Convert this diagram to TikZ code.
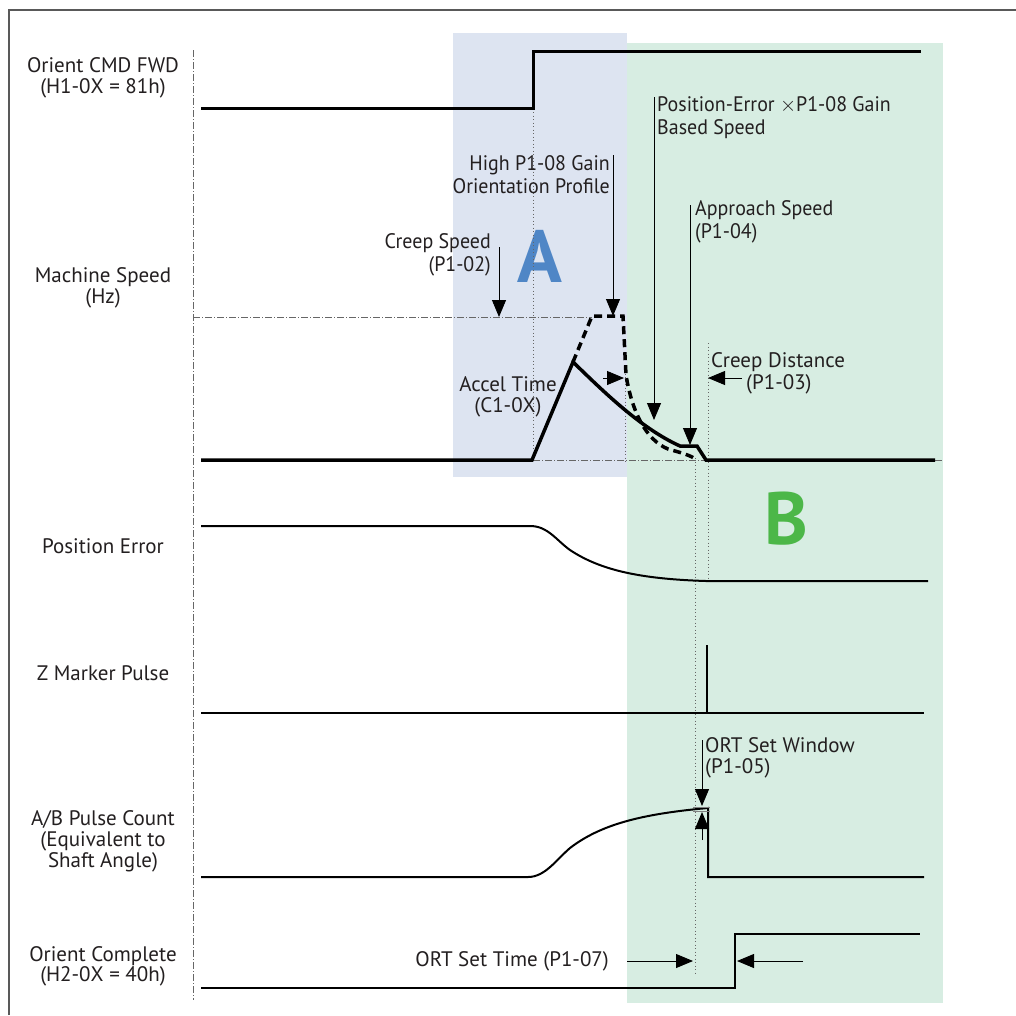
\documentclass[tikz,border=0pt]{standalone}
\usepackage{fontspec}
\setmainfont{PT Sans}
\newfontfamily\narrowfont[FakeStretch=0.95]{PT Sans}
\usepackage{tikz}
\usetikzlibrary{arrows.meta}

\definecolor{txt}{HTML}{231F20}
\definecolor{zoneA}{HTML}{DDE4F1}
\definecolor{zoneB}{HTML}{D7EDE2}
\definecolor{letterA}{HTML}{4F86C6}
\definecolor{letterB}{HTML}{4CB748}

\tikzset{
  sig/.style={line width=3pt},
  thinsig/.style={line width=2pt},
  profile/.style={line width=3.5pt, dash pattern=on 8pt off 5pt},
  guide/.style={gray!80!black, line width=0.8pt, dash pattern=on 7pt off 2pt on 1pt off 2pt},
  dotline/.style={gray!80!black, line width=0.8pt, dash pattern=on 1pt off 2.5pt},
  pointer/.style={line width=0.9pt, -{Triangle[length=17pt,width=14pt]}},
  lbl/.style={text=txt, font=\fontsize{21}{21}\selectfont, inner sep=0pt, align=center},
  nlbl/.style={text=txt, font=\narrowfont\fontsize{21}{23}\selectfont, inner sep=0pt},
  bigletter/.style={font=\fontsize{74}{74}\selectfont\bfseries, inner sep=0pt}
}

\begin{document}
\begin{tikzpicture}[x=1pt,y=-1pt]
  \useasboundingbox (0,0) rectangle (1016,1015);
  \fill[white] (0,0) rectangle (1016,1015);
  \draw[gray!70!black, line width=1.3pt] (9,1015) -- (9,10) -- (1016,10);

  \fill[zoneA] (453,33) rectangle (627,477);
  \fill[zoneB] (627,43) rectangle (943,1003);
  \node[bigletter, text=letterA] (zoneAtag) at (540,256) {A};
  \node[bigletter, text=letterB] (zoneBtag) at (786,519) {B};

  \draw[guide] (193,50) -- (193,1000);
  \draw[guide] (193,317) -- (592,317);
  \draw[guide] (533,460) -- (706,460);
  \draw[guide] (935,460) -- (943,460);
  \draw[dotline] (533,112) -- (533,460);
  \draw[dotline] (625,370) -- (625,462);
  \draw[dotline] (708,343) -- (708,580);
  \draw[dotline] (695,458) -- (695,975);

  \node[lbl] (lcmd) at (103,78) {Orient CMD FWD\\(H1-0X = 81h)};
  \node[lbl] (lspeed) at (103,288) {Machine Speed\\(Hz)};
  \node[lbl] (lposerr) at (103,546) {Position Error};
  \node[lbl] (lzmark) at (103,673) {Z Marker Pulse};
  \node[lbl] (lpulse) at (103,841) {A/B Pulse Count\\(Equivalent to\\Shaft Angle)};
  \node[lbl, font=\fontsize{21}{18}\selectfont] (lcomplete) at (103,966) {Orient Complete\\(H2-0X = 40h)};

  \draw[sig] (201,108) -- (533,108) -- (533,51) -- (921,51);

  \draw[profile] (573,362) -- (592,316) -- (623,316) -- (626,375)
    .. controls (632,412) and (646,440) .. (668,449)
    .. controls (682,453) and (690,455) .. (697,460);
  \draw[sig, line width=3.5pt] (201,460) -- (532,460) -- (573,362)
    .. controls (602,390) and (640,428) .. (680,446) -- (697,446) -- (706,460) -- (935,460);

  \draw[thinsig] (201,526) -- (530,526) .. controls (548,526) and (556,540) .. (570,550)
    .. controls (600,570) and (640,579) .. (706,581) -- (928,581);
  \draw[thinsig] (201,713) -- (924,713);
  \draw[thinsig] (707,713) -- (707,645);
  \draw[thinsig] (201,877) -- (528,877) .. controls (545,877) and (556,860) .. (570,848)
    .. controls (600,825) and (640,814) .. (708,808) -- (708,877) -- (924,877);
  \draw[sig, line width=2.5pt] (201,988) -- (735,988) -- (735,934) -- (920,934);

  \node[nlbl, anchor=east, align=right] (creepspeed) at (491,255) {Creep Speed\\(P1-02)};
  \draw[pointer] (499,247) -- (499,317);
  \node[nlbl, anchor=east, align=right] (highgain) at (610,175) {High P1-08 Gain\\Orientation Profile};
  \draw[pointer] (613,155) -- (613,316);
  \node[nlbl, anchor=west, align=left] (errspeed) at (657,118) {Position-Error $\times$P1-08 Gain\\Based Speed};
  \draw[pointer] (654,97) -- (654,420);
  \node[nlbl, anchor=west, align=left] (approach) at (695,222) {Approach Speed\\(P1-04)};
  \draw[pointer] (690,205) -- (690,445);
  \node[lbl] (acceltime) at (508,397) {Accel Time\\(C1-0X)};
  \draw[pointer] (603,378) -- (624,378);
  \node[lbl, anchor=west] (creepdist) at (711,362) {Creep Distance};
  \node[lbl, anchor=west] (creepparam) at (746,384) {(P1-03)};
  \draw[pointer] (742,378) -- (708,378);

  \node[lbl, anchor=west, align=left] (ortwindow) at (705,758) {ORT Set Window\\(P1-05)};
  \draw[gray, line width=0.8pt] (693,807) -- (710,807);
  \draw[gray, line width=0.8pt] (693,811) -- (710,811);
  \draw[pointer] (702,740) -- (702,806);
  \draw[pointer] (702,840) -- (702,812);

  \node[lbl, anchor=east] (orttime) at (609,961) {ORT Set Time (P1-07)};
  \draw[pointer] (627,961) -- (693,961);
  \draw[pointer] (803,961) -- (737,961);
\end{tikzpicture}
\end{document}
